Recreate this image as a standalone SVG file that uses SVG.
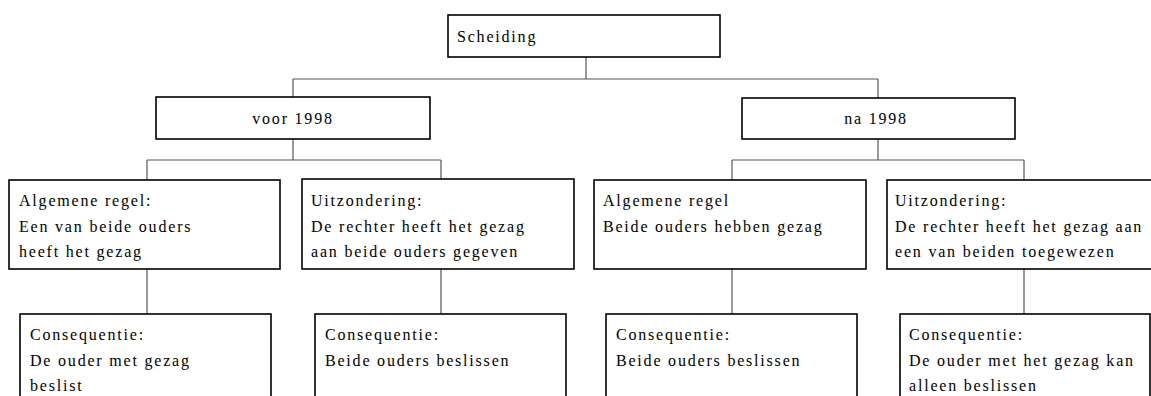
<svg xmlns="http://www.w3.org/2000/svg" width="1151" height="396" viewBox="0 0 1151 396">
<style>
.box{fill:#fff;stroke:#000;stroke-width:1.6}
.t{font-family:"Liberation Serif","Times New Roman",serif;font-size:16px;letter-spacing:1.8px;fill:#000}
.c{text-anchor:middle}
.conn line{stroke:#555;stroke-width:1.2}
</style>
<rect width="1151" height="396" fill="#fff"/>
<g id="connectors" class="conn">
<line x1="586" y1="57" x2="586" y2="79"/>
<line x1="293" y1="79" x2="878" y2="79"/>
<line x1="293" y1="79" x2="293" y2="97"/>
<line x1="878" y1="79" x2="878" y2="98"/>
<line x1="293" y1="139" x2="293" y2="160"/>
<line x1="147" y1="160" x2="441" y2="160"/>
<line x1="147" y1="160" x2="147" y2="180"/>
<line x1="441" y1="160" x2="441" y2="180"/>
<line x1="878" y1="139" x2="878" y2="160"/>
<line x1="732" y1="160" x2="1024" y2="160"/>
<line x1="732" y1="160" x2="732" y2="180"/>
<line x1="1024" y1="160" x2="1024" y2="180"/>
<line x1="147" y1="269" x2="147" y2="314"/>
<line x1="441" y1="269" x2="441" y2="314"/>
<line x1="732" y1="269" x2="732" y2="314"/>
<line x1="1024" y1="269" x2="1024" y2="314"/>
</g>
<g id="scheiding"><rect class="box" x="448" y="15" width="272" height="42"/><text class="t" x="457" y="42">Scheiding</text></g>
<g id="voor1998"><rect class="box" x="156" y="97" width="274" height="42"/><text class="t c" x="293" y="124">voor 1998</text></g>
<g id="na1998"><rect class="box" x="742" y="98" width="273" height="41"/><text class="t c" x="876" y="124">na 1998</text></g>
<g id="regel-voor"><rect class="box" x="9" y="180" width="271" height="89"/><text class="t" x="19"><tspan x="19" y="206">Algemene regel:</tspan><tspan x="19" y="232">Een van beide ouders</tspan><tspan x="19" y="257">heeft het gezag</tspan></text></g>
<g id="uitz-voor"><rect class="box" x="302" y="179" width="272" height="90"/><text class="t"><tspan x="311" y="206">Uitzondering:</tspan><tspan x="311" y="232">De rechter heeft het gezag</tspan><tspan x="311" y="257">aan beide ouders gegeven</tspan></text></g>
<g id="regel-na"><rect class="box" x="594" y="180" width="272" height="89"/><text class="t"><tspan x="603" y="206">Algemene regel</tspan><tspan x="603" y="232">Beide ouders hebben gezag</tspan></text></g>
<g id="uitz-na"><rect class="box" x="887" y="180" width="266" height="89"/><text class="t"><tspan x="895" y="206">Uitzondering:</tspan><tspan x="895" y="232">De rechter heeft het gezag aan</tspan><tspan x="895" y="257">een van beiden toegewezen</tspan></text></g>
<g id="cons1"><rect class="box" x="20" y="314" width="251" height="100"/><text class="t"><tspan x="30" y="340">Consequentie:</tspan><tspan x="30" y="366">De ouder met gezag</tspan><tspan x="30" y="391">beslist</tspan></text></g>
<g id="cons2"><rect class="box" x="315" y="314" width="251" height="100"/><text class="t"><tspan x="325" y="340">Consequentie:</tspan><tspan x="325" y="366">Beide ouders beslissen</tspan></text></g>
<g id="cons3"><rect class="box" x="606" y="314" width="251" height="100"/><text class="t"><tspan x="616" y="340">Consequentie:</tspan><tspan x="616" y="366">Beide ouders beslissen</tspan></text></g>
<g id="cons4"><rect class="box" x="900" y="314" width="250" height="100"/><text class="t"><tspan x="909" y="340">Consequentie:</tspan><tspan x="909" y="366">De ouder met het gezag kan</tspan><tspan x="909" y="391">alleen beslissen</tspan></text></g>
</svg>
